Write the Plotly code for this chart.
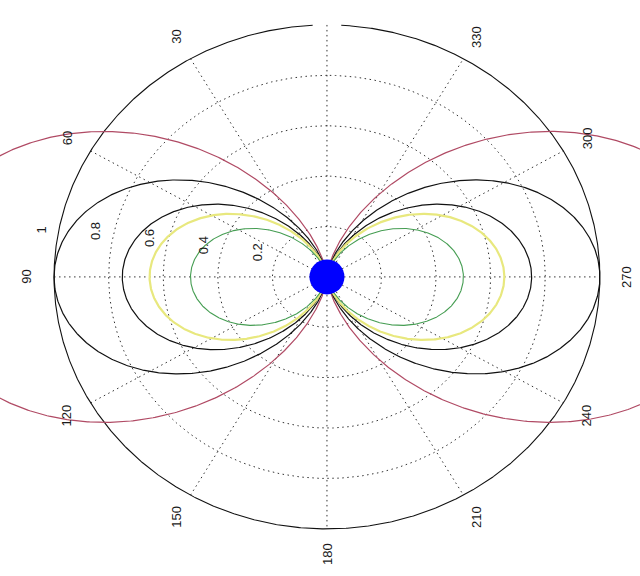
import numpy as np
import plotly.graph_objects as go

# ---- chart data -------------------------------------------------------------
angle_ticks = [0, 30, 60, 90, 120, 150, 180, 210, 240, 270, 300, 330]   # degrees
radial_ticks = [0.2, 0.4, 0.6, 0.8, 1.0]
radial_tick_labels = ["0.2", "0.4", "0.6", "0.8", "1"]

# peak gain of each sin^2 radiation lobe
pattern_peaks = [1.5, 1.0, 0.75, 0.65, 0.5]
pattern_colors = ["#b04a64", "#111111", "#111111", "#e8e87e", "#459d52"]
pattern_widths = [1.2, 1.2, 1.2, 2.2, 1.1]

R_MAX = 1.0

# ---- helpers ----------------------------------------------------------------
# angle is measured from the top, counter-clockwise (0 up, 90 left, 270 right)
def to_xy(r, theta_deg):
    t = np.radians(theta_deg)
    return -r * np.sin(t), r * np.cos(t)


theta = np.linspace(0, 360, 1441)
fig = go.Figure()

grid_line = dict(color="#333333", width=1, dash="1.5px,3.5px")

# dotted range rings
for r in radial_ticks[:-1]:
    gx, gy = to_xy(r, theta)
    fig.add_trace(go.Scatter(x=gx, y=gy, mode="lines", line=grid_line,
                             hoverinfo="skip", showlegend=False))

# dotted spokes every 30 degrees
for a in angle_ticks[:6]:
    x0, y0 = to_xy(R_MAX, a)
    x1, y1 = to_xy(R_MAX, a + 180)
    fig.add_trace(go.Scatter(x=[x0, x1], y=[y0, y1], mode="lines", line=grid_line,
                             hoverinfo="skip", showlegend=False))

# solid outer ring (small opening at the top under the 0 label)
ring_t = np.linspace(3, 357, 1200)
ox, oy = to_xy(R_MAX, ring_t)
fig.add_trace(go.Scatter(x=ox, y=oy, mode="lines",
                         line=dict(color="#111111", width=1.1),
                         hoverinfo="skip", showlegend=False))

# radiation patterns
for peak, col, w in zip(pattern_peaks, pattern_colors, pattern_widths):
    r = peak * np.sin(np.radians(theta)) ** 2
    px, py = to_xy(r, theta)
    fig.add_trace(go.Scatter(x=px, y=py, mode="lines",
                             line=dict(color=col, width=w),
                             hoverinfo="skip", showlegend=False))

# source at the origin
fig.add_trace(go.Scatter(x=[0], y=[0], mode="markers",
                         marker=dict(size=35, color="#0000ff", line=dict(width=0)),
                         hoverinfo="skip", showlegend=False))

label_font = dict(family="Liberation Sans, Arial, sans-serif", size=13, color="#1a1a1a")
annotations = []

# angle labels just outside the outer ring
for a in angle_ticks:
    lx, ly = to_xy(1.1 * R_MAX, a)
    annotations.append(dict(x=lx, y=ly, xref="x", yref="y", text=str(a),
                            showarrow=False, textangle=-90, font=label_font,
                            xanchor="center", yanchor="middle"))

# radial labels along a ray close to the 90-degree spoke
for r, lab in zip(radial_ticks, radial_tick_labels):
    rr = r + 0.01
    lx, ly = to_xy(rr, 82)
    annotations.append(dict(x=lx, y=ly, xref="x", yref="y", text=lab,
                            showarrow=False, textangle=-90, font=label_font,
                            xanchor="right", yanchor="bottom",
                            xshift=-3, yshift=6))

fig.update_layout(
    width=640, height=576,
    margin=dict(l=0, r=0, t=0, b=0),
    paper_bgcolor="white", plot_bgcolor="white",
    showlegend=False, hovermode=False,
    annotations=annotations,
    xaxis=dict(range=[-1.198, 1.147], visible=False, fixedrange=True),
    yaxis=dict(range=[-1.187, 1.099], visible=False, fixedrange=True),
)

fig.write_html("out.html")
